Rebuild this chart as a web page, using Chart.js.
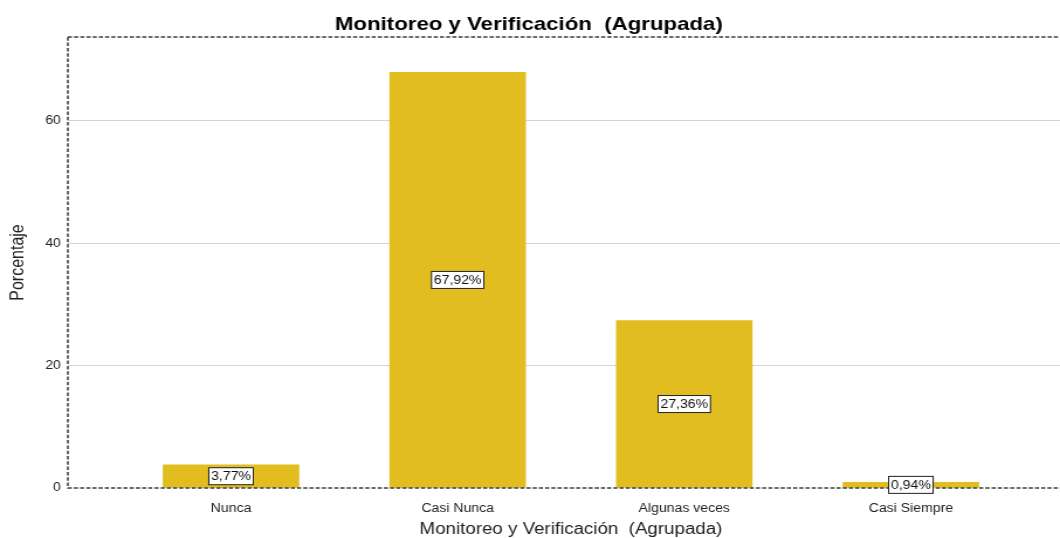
<!DOCTYPE html>
<html>
<head>
<meta charset="utf-8">
<script src="https://cdn.jsdelivr.net/npm/chart.js@4.4.1/dist/chart.umd.min.js"></script>
<style>
  html, body { margin: 0; padding: 0; background: #fff; overflow: hidden; }
  /* the reference is a horizontally stretched export, so the whole chart is stretched the same way */
  #wrap { width: 940px; height: 538px; transform: scaleX(1.17); transform-origin: 0 0; }
</style>
</head>
<body>
<div id="wrap"><canvas id="chart" width="940" height="538"></canvas></div>
<script>
const categories = ['Nunca', 'Casi Nunca', 'Algunas veces', 'Casi Siempre'];
const percentages = [3.77, 67.92, 27.36, 0.94];
const yTicks = [0, 20, 40, 60];
const chartTitle = 'Monitoreo y Verificación  (Agrupada)';
const xTitle = 'Monitoreo y Verificación  (Agrupada)';
const yTitle = 'Porcentaje';

const font = '"Liberation Sans", Arial, sans-serif';
const barColor = '#e1bd1f';

// title drawn by hand so it can sit off-centre like the original
const titlePlugin = {
    id: 'topTitle',
    afterDraw(chart) {
        const ctx = chart.ctx;
        ctx.save();
        ctx.font = 'bold 19px ' + font;
        ctx.fillStyle = '#000';
        ctx.textAlign = 'center';
        ctx.textBaseline = 'alphabetic';
        ctx.fillText(chartTitle, 452, 30);
        ctx.restore();
    }
};

// dashed frame round the plot, then the boxed value labels on top
const frameAndLabels = {
    id: 'frameAndLabels',
    afterDatasetsDraw(chart) {
        const ctx = chart.ctx;
        const a = chart.chartArea;
        ctx.save();
        ctx.strokeStyle = '#3a3a3a';
        ctx.lineWidth = 1.5;
        ctx.setLineDash([3.5, 1.8]);
        ctx.strokeRect(a.left, a.top, a.right - a.left, a.bottom - a.top);
        ctx.setLineDash([]);

        ctx.font = '12px ' + font;
        ctx.textAlign = 'center';
        ctx.textBaseline = 'middle';
        chart.getDatasetMeta(0).data.forEach((bar, i) => {
            const text = percentages[i].toFixed(2).replace('.', ',') + '%';
            const w = ctx.measureText(text).width + 4;
            const h = 17;
            const cy = (bar.y + bar.base) / 2;
            ctx.fillStyle = '#fff';
            ctx.fillRect(bar.x - w / 2, cy - h / 2, w, h);
            ctx.strokeStyle = '#222';
            ctx.lineWidth = 1;
            ctx.strokeRect(bar.x - w / 2, cy - h / 2, w, h);
            ctx.fillStyle = '#111';
            ctx.fillText(text, bar.x, cy + 0.5);
        });
        ctx.restore();
    }
};

new Chart(document.getElementById('chart'), {
    type: 'bar',
    data: {
        datasets: [{
            data: percentages.map((v, i) => ({ x: i + 1, y: v })),
            backgroundColor: barColor,
            borderWidth: 0,
            barThickness: 116,
        }],
    },
    options: {
        responsive: false,
        animation: false,
        layout: { padding: { top: 37, right: 22, bottom: 0, left: 0 } },
        plugins: {
            legend: { display: false },
            tooltip: { enabled: false },
        },
        scales: {
            x: {
                type: 'linear',
                min: 0.28,
                max: 4.72,
                offset: false,
                grid: { display: false, offset: false },
                border: { display: false },
                afterBuildTicks: s => { s.ticks = categories.map((c, i) => ({ value: i + 1 })); },
                afterFit: s => { s.height = 50; },
                ticks: {
                    callback: (v, i) => categories[i],
                    autoSkip: false,
                    maxRotation: 0,
                    padding: 5,
                    color: '#222',
                    font: { family: font, size: 12 },
                },
                title: {
                    display: true,
                    text: xTitle,
                    color: '#222',
                    padding: { top: 0, bottom: -1 },
                    font: { family: font, size: 16 },
                },
            },
            y: {
                min: 0,
                max: 73.7,
                grid: {
                    drawTicks: false,
                    color: c => c.tick.value === 0 ? 'rgba(0,0,0,0)' : '#d4d4d4',
                },
                border: { display: false },
                afterBuildTicks: s => { s.ticks = yTicks.map(v => ({ value: v })); },
                afterFit: s => { s.width = 58; },
                ticks: {
                    padding: 6,
                    color: '#222',
                    font: { family: font, size: 12 },
                },
                title: {
                    display: true,
                    text: yTitle,
                    color: '#222',
                    padding: { top: 6, bottom: 0 },
                    font: { family: font, size: 16 },
                },
            },
        },
    },
    plugins: [titlePlugin, frameAndLabels],
});
</script>
</body>
</html>
